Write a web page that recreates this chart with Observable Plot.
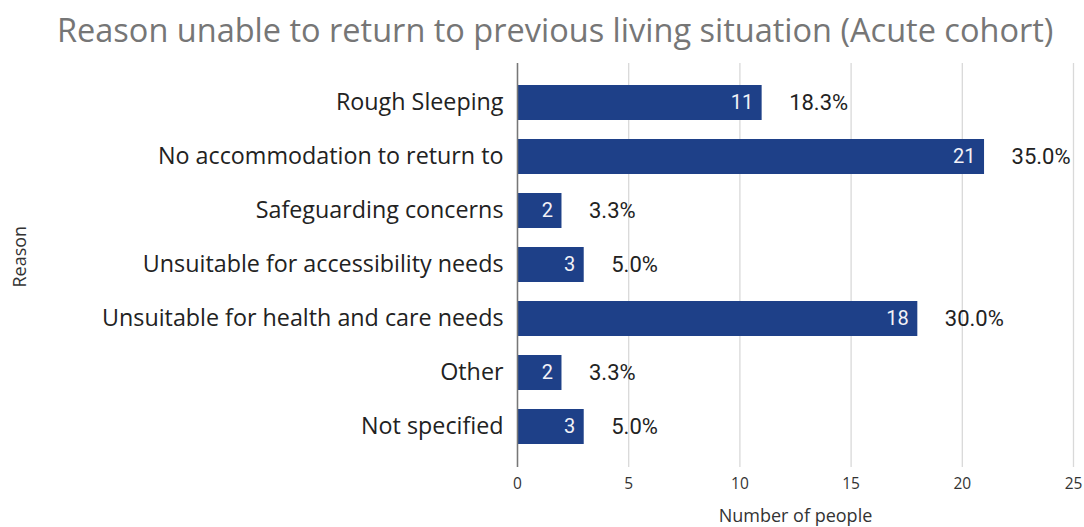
<!DOCTYPE html>
<html>
<head>
<meta charset="utf-8">
<script src="https://cdn.jsdelivr.net/npm/d3@7"></script>
<script src="https://cdn.jsdelivr.net/npm/@observablehq/plot@0.6"></script>
<style>
  html, body { margin: 0; padding: 0; background: #fff; }
  #title { height: 55px; line-height: 60px; font-family: "Open Sans", sans-serif; font-size: 32.5px; color: #767676; padding-left: 57px; white-space: nowrap; }
  svg { display: block; }
</style>
</head>
<body>
<div id="title">Reason unable to return to previous living situation (Acute cohort)</div>
<div id="chart"></div>
<script>
const reasons = [
  "Rough Sleeping",
  "No accommodation to return to",
  "Safeguarding concerns",
  "Unsuitable for accessibility needs",
  "Unsuitable for health and care needs",
  "Other",
  "Not specified"
];
const counts = [11, 21, 2, 3, 18, 2, 3];
const percents = ["18.3%", "35.0%", "3.3%", "5.0%", "30.0%", "3.3%", "5.0%"];
const xTicks = [0, 5, 10, 15, 20, 25];

const data = reasons.map((r, i) => ({reason: r, count: counts[i], pct: percents[i]}));

const chart = Plot.plot({
  width: 1084,
  height: 472,
  marginTop: 8,
  marginBottom: 60,
  marginLeft: 517,
  marginRight: 11,
  style: {fontFamily: "Roboto, sans-serif", background: "#fff"},
  x: {domain: [0, 25], ticks: xTicks, label: null},
  y: {domain: reasons, padding: 0.35, label: null},
  marks: [
    Plot.gridX(xTicks, {stroke: "#d9d9d9", strokeOpacity: 1, strokeWidth: 1.3}),
    Plot.axisX(xTicks, {tickSize: 0, tickPadding: 10, fontSize: 15.5, fill: "#333", label: null, fontFamily: "Open Sans, sans-serif"}),
    Plot.axisY({tickSize: 0, tickPadding: 14, fontSize: 23.3, fill: "#222", label: null, fontFamily: "Open Sans, sans-serif"}),
    Plot.barX(data, {x: "count", y: "reason", fill: "#1e4088"}),
    Plot.ruleX([0], {stroke: "#777", strokeWidth: 1.5}),
    Plot.text(data, {x: "count", y: "reason", text: d => String(d.count), textAnchor: "end", dx: -9, fill: "#f2f2f7", fontSize: 20}),
    Plot.text(data, {x: "count", y: "reason", text: "pct", textAnchor: "start", dx: 27, fill: "#222", fontSize: 22}),
    Plot.text(["Number of people"], {frameAnchor: "bottom", dy: 54, fontSize: 18, fill: "#333", fontFamily: "Open Sans, sans-serif"}),
    Plot.text(["Reason"], {frameAnchor: "left", dx: -497, dy: 22, rotate: -90, fontSize: 18, fill: "#333", fontFamily: "Open Sans, sans-serif"})
  ]
});
document.getElementById("chart").appendChild(chart);
</script>
</body>
</html>
